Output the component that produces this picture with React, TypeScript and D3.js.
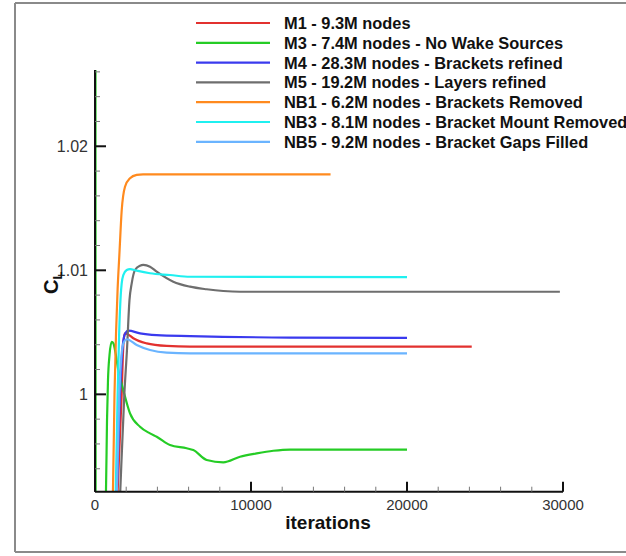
import React from "react";
import * as d3 from "d3";

type Pt = [number, number];

const m1: Pt[] = [[1350, 0.990], [1450, 0.9922], [1710, 1.0], [1800, 1.0035], [1860, 1.0046], [1923, 1.00492], [2100, 1.00485], [2455, 1.00452], [3314, 1.00411], [4596, 1.0039], [6090, 1.00384], [24150, 1.00384]];
const m3: Pt[] = [[30, 1.03], [40, 0.991], [650, 0.991], [705, 0.9923], [770, 0.9979], [833, 1.00115], [930, 1.00317], [1070, 1.00424], [1186, 1.0041], [1282, 1.00357], [1494, 1.00196], [1814, 1.00035], [2244, 0.99847], [2885, 0.99739], [3526, 0.99685], [3955, 0.99658], [4808, 0.99591], [5878, 0.99565], [6301, 0.99551], [7160, 0.99471], [8224, 0.99452], [9295, 0.99497], [10365, 0.99524], [11430, 0.99545], [12500, 0.99555], [20000, 0.99555]];
const m4: Pt[] = [[1300, 0.990], [1400, 0.9922], [1600, 1.0], [1750, 1.0035], [1900, 1.0048], [2135, 1.00513], [2885, 1.00492], [3955, 1.00478], [6090, 1.0047], [12500, 1.00458], [20000, 1.00456]];
const m5: Pt[] = [[1550, 0.990], [1620, 0.9922], [1880, 1.0], [2050, 1.0036], [2210, 1.0076], [2353, 1.00895], [2564, 1.01002], [2885, 1.01037], [3096, 1.01043], [3526, 1.01029], [3955, 1.00989], [5019, 1.00908], [6090, 1.00868], [7160, 1.00847], [8224, 1.00833], [9295, 1.00827], [29800, 1.00827]];
const nb1: Pt[] = [[1050, 0.990], [1150, 0.9922], [1250, 1.0], [1350, 1.005], [1450, 1.0085], [1560, 1.0112], [1710, 1.0148], [1923, 1.01674], [2244, 1.01742], [2673, 1.01769], [3080, 1.01774], [15100, 1.01774]];
const nb3: Pt[] = [[1250, 0.990], [1330, 0.9922], [1450, 1.0], [1550, 1.005], [1650, 1.008], [1711, 1.00895], [1814, 1.00962], [2032, 1.01002], [2244, 1.0101], [2673, 1.00997], [3526, 1.00976], [4808, 1.00962], [6090, 1.00948], [20000, 1.00945]];
const nb5: Pt[] = [[1300, 0.990], [1400, 0.9922], [1560, 1.0], [1700, 1.0032], [1850, 1.0042], [2032, 1.00444], [2673, 1.00398], [3526, 1.00357], [4596, 1.00336], [6090, 1.00331], [20000, 1.00331]];

const seriesNames = [
  "M1 - 9.3M nodes",
  "M3 - 7.4M nodes - No Wake Sources",
  "M4 - 28.3M nodes - Brackets refined",
  "M5 - 19.2M nodes - Layers refined",
  "NB1 - 6.2M nodes - Brackets Removed",
  "NB3 - 8.1M nodes - Bracket Mount Removed",
  "NB5 - 9.2M nodes - Bracket Gaps Filled",
];
const seriesData = [m1, m3, m4, m5, nb1, nb3, nb5];
const seriesColors = ["#e2312f", "#25cc25", "#3a3aee", "#6e6e6e", "#ff8a1e", "#1ff0f0", "#6ab4ff"];

const xMajorTicks = [0, 10000, 20000, 30000];
const yMajorTicks = [1, 1.01, 1.02];

const X0 = 95, X1 = 563, YT = 70, YB = 491.7;

export default function App() {
  const x = d3.scaleLinear().domain([0, 30000]).range([X0, X1]);
  const y = d3.scaleLinear().domain([0.99215, 1.02615]).range([YB, YT]);
  const line = d3
    .line<Pt>()
    .x((d) => x(d[0]))
    .y((d) => y(d[1]))
    .curve(d3.curveMonotoneX);

  const xMinor = d3.range(0, 30001, 2000).filter((v) => v % 10000 !== 0);
  const yMinor = d3.range(0, 18).map((i) => 0.994 + i * 0.002).filter((v) => v <= 1.0262 && Math.abs(Math.round(v * 100) - v * 100) > 1e-6);

  const font = "'Liberation Sans', Arial, sans-serif";

  return (
    <svg width={626} height={556} style={{ position: "absolute", left: 0, top: 0, background: "#fff" }} fontFamily={font}>
      <defs>
        <clipPath id="plotclip">
          <rect x={X0} y={YT} width={X1 - X0 + 2} height={YB - YT} />
        </clipPath>
      </defs>
      {/* frame */}
      <line x1={15} y1={3} x2={626} y2={3} stroke="#8a8a8a" strokeWidth={2} />
      <line x1={15} y1={3} x2={15} y2={552} stroke="#8a8a8a" strokeWidth={2} />
      <line x1={15} y1={552} x2={626} y2={552} stroke="#8a8a8a" strokeWidth={2} />

      {/* curves */}
      <g clipPath="url(#plotclip)">
        {seriesData.map((d, i) => (
          <path key={i} d={line(d) || ""} fill="none" stroke={seriesColors[i]} strokeWidth={2.2} strokeLinejoin="round" />
        ))}
      </g>

      {/* axes */}
      <line x1={X0} y1={YT} x2={X0} y2={YB} stroke="#111" strokeWidth={2} />
      <line x1={X0} y1={YB} x2={X1} y2={YB} stroke="#111" strokeWidth={2} />
      {yMinor.map((v) => (
        <line key={"ym" + v} x1={X0} x2={X0 + 5} y1={y(v)} y2={y(v)} stroke="#777" strokeWidth={1} />
      ))}
      {yMajorTicks.map((v) => (
        <g key={"y" + v}>
          <line x1={X0} x2={X0 + 11} y1={y(v)} y2={y(v)} stroke="#111" strokeWidth={2} />
          <text x={88} y={y(v)} dy="0.35em" textAnchor="end" fontSize={16} fill="#333">
            {String(v)}
          </text>
        </g>
      ))}
      {xMinor.map((v) => (
        <line key={"xm" + v} x1={x(v)} x2={x(v)} y1={YB} y2={YB - 5} stroke="#777" strokeWidth={1} />
      ))}
      {xMajorTicks.map((v) => (
        <g key={"x" + v}>
          <line x1={x(v)} x2={x(v)} y1={YB} y2={YB - 10} stroke="#111" strokeWidth={2} />
          <text x={x(v)} y={510} textAnchor="middle" fontSize={15} fill="#333">
            {String(v)}
          </text>
        </g>
      ))}

      {/* axis titles */}
      <text x={(X0 + X1) / 2 - 1} y={529} textAnchor="middle" fontSize={19} fontWeight="bold" fill="#111">
        iterations
      </text>
      <text transform="translate(58,294) rotate(-90)" fontSize={20} fontWeight="bold" fill="#111">
        C<tspan fontSize={13} dy={4}>L</tspan>
      </text>

      {/* legend */}
      {seriesNames.map((name, i) => {
        const ly = 23 + i * 19.8;
        return (
          <g key={name}>
            <line x1={196} x2={270} y1={ly} y2={ly} stroke={seriesColors[i]} strokeWidth={2.2} />
            <text x={284} y={ly} dy="0.36em" fontSize={16.4} fontWeight="bold" fill="#111">
              {name}
            </text>
          </g>
        );
      })}
    </svg>
  );
}
